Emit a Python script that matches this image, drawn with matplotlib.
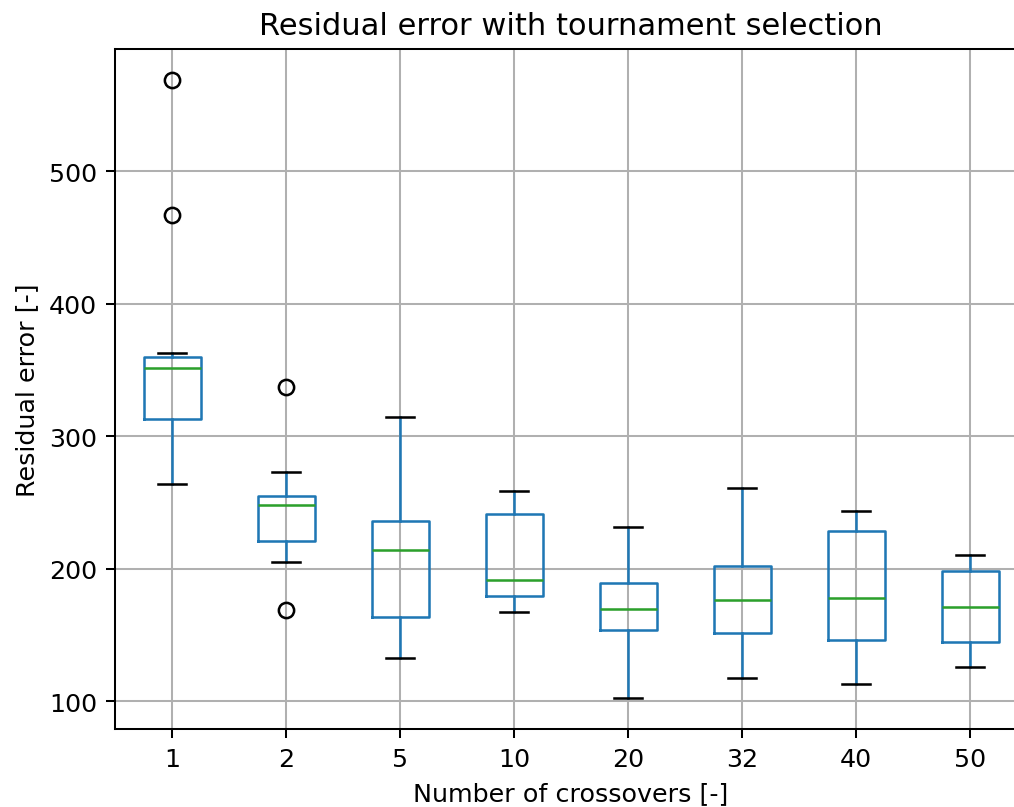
"""
Box plot of residual error vs number of crossovers (tournament selection)
"""

import matplotlib
matplotlib.use("Agg")
import matplotlib.pyplot as plt

# Values
crossovers = ["1", "2", "5", "10", "20", "32", "40", "50"]
medians = [351.2, 247.9, 214.0, 191.5, 169.2, 176.6, 177.6, 171.3]
q1 = [312.9, 220.9, 163.5, 179.4, 153.7, 151.4, 146.3, 145.0]
q3 = [359.5, 254.7, 236.0, 241.0, 188.9, 201.7, 228.2, 198.5]
whisker_low = [264.2, 205.0, 132.5, 167.3, 102.3, 117.1, 113.1, 125.4]
whisker_high = [362.5, 273.3, 314.7, 259.0, 231.5, 260.7, 243.6, 210.0]
outliers = [[569.0, 467.0], [336.8, 168.5], [], [], [], [], [], []]

DPI = 183
fig = plt.figure(figsize=(1014 / DPI, 808 / DPI), dpi=DPI)
# The reference is cropped on the right, so the axes run past the edge
ax = fig.add_axes([115 / 1014, 78 / 808, 912 / 1014, 680 / 808])

stats = []
for i, label in enumerate(crossovers):
    stats.append({
        "label": label,
        "med": medians[i],
        "q1": q1[i],
        "q3": q3[i],
        "whislo": whisker_low[i],
        "whishi": whisker_high[i],
        "fliers": outliers[i],
    })

ax.bxp(
    stats,
    boxprops=dict(color="C0"),
    whiskerprops=dict(color="C0"),
    medianprops=dict(color="C2"),
    capprops=dict(color="k"),
)

ax.grid(True)
ax.set_axisbelow(True)
ax.set_title("Residual error with tournament selection")
ax.set_xlabel("Number of crossovers [-]")
ax.set_ylabel("Residual error [-]")

fig.savefig("out.png", dpi=DPI)
plt.close(fig)
